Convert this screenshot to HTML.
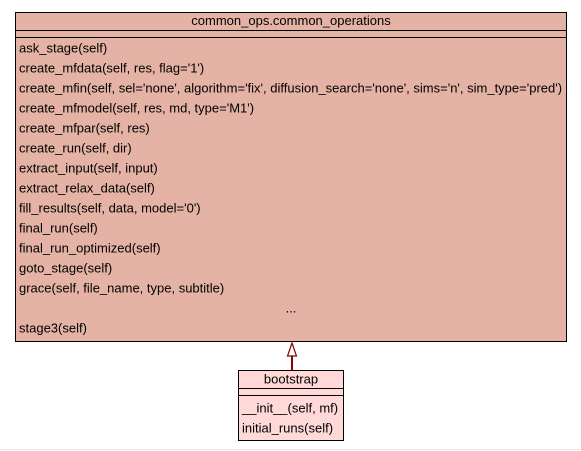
<!DOCTYPE html>
<html><head><meta charset="utf-8"><style>
html,body{margin:0;padding:0;background:#fff;}
svg{display:block;}
text{font-family:"Liberation Sans",Arial,sans-serif;font-size:13px;fill:#000;}
</style></head><body>
<svg width="581" height="451" viewBox="0 0 581 451" xmlns="http://www.w3.org/2000/svg">
<rect x="0" y="0" width="581" height="451" fill="#fff"/>
<line x1="0" y1="449.5" x2="581" y2="449.5" stroke="#e6e6e6" stroke-width="1"/>
<rect x="15.5" y="12.5" width="551" height="329" fill="#e5b3a5" stroke="#000" stroke-width="1"/>
<line x1="15.5" y1="30.5" x2="566.5" y2="30.5" stroke="#000"/>
<line x1="15.5" y1="37.5" x2="566.5" y2="37.5" stroke="#000"/>
<text x="291" y="25" text-anchor="middle">common_ops.common_operations</text>
<text x="19" y="52.5">ask_stage(self)</text>
<text x="19" y="72.5">create_mfdata(self, res, flag='1')</text>
<text x="19" y="92.5">create_mfin(self, sel='none', algorithm='fix', diffusion_search='none', sims='n', sim_type='pred')</text>
<text x="19" y="112.5">create_mfmodel(self, res, md, type='M1')</text>
<text x="19" y="132.5">create_mfpar(self, res)</text>
<text x="19" y="152.5">create_run(self, dir)</text>
<text x="19" y="172.5">extract_input(self, input)</text>
<text x="19" y="192.5">extract_relax_data(self)</text>
<text x="19" y="212.5">fill_results(self, data, model='0')</text>
<text x="19" y="232.5">final_run(self)</text>
<text x="19" y="252.5">final_run_optimized(self)</text>
<text x="19" y="272.5">goto_stage(self)</text>
<text x="19" y="292.5">grace(self, file_name, type, subtitle)</text>
<text x="291" y="312.5" text-anchor="middle">...</text>
<text x="19" y="332.5">stage3(self)</text>
<line x1="292" y1="356" x2="292" y2="370" stroke="#8b0000" stroke-width="2"/>
<polygon points="292,343 287.5,356 296.5,356" fill="#fff" stroke="#8b0000" stroke-width="1.2"/>
<rect x="238.5" y="370.5" width="105" height="70" fill="#ffd8d8" stroke="#000" stroke-width="1"/>
<line x1="238.5" y1="388.5" x2="343.5" y2="388.5" stroke="#000"/>
<line x1="238.5" y1="395.5" x2="343.5" y2="395.5" stroke="#000"/>
<text x="291" y="383.5" text-anchor="middle">bootstrap</text>
<text x="242" y="412.5">__init__(self, mf)</text>
<text x="242" y="432.5">initial_runs(self)</text>
</svg>
</body></html>
